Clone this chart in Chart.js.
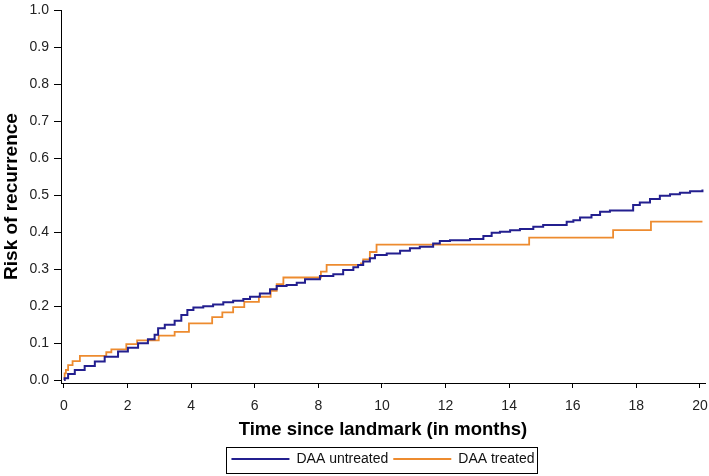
<!DOCTYPE html>
<html>
<head>
<meta charset="utf-8">
<title>Risk of recurrence</title>
<script src="https://cdn.jsdelivr.net/npm/chart.js@4/dist/chart.umd.min.js"></script>
<style>
  body { margin: 0; background: #fff; }
  #wrap { width: 709px; height: 476px; }
</style>
</head>
<body>
<div id="wrap"><canvas id="km" width="709" height="476"></canvas></div>
<script>
// months since landmark / cumulative risk
const untreatedT = [0, 0.02, 0.13, 0.34, 0.65, 0.97, 1.28, 1.7, 2.01, 2.33, 2.64, 2.85, 2.96, 3.17, 3.48, 3.69, 3.88,
  4.07, 4.38, 4.69, 5.01, 5.32, 5.64, 5.85, 6.16, 6.48, 6.69, 7.0, 7.32, 7.58, 8.05, 8.47, 8.78, 9.1, 9.25,
  9.41, 9.62, 9.78, 10.15, 10.57, 10.88, 11.19, 11.61, 11.82, 12.14, 12.77, 13.19, 13.45, 13.71, 14.03,
  14.34, 14.76, 15.07, 15.81, 16.02, 16.23, 16.59, 16.86, 17.17, 17.9, 18.11, 18.43, 18.74, 19.06, 19.37,
  19.69, 20.08];
const untreatedRisk = [0, 0.005, 0.016, 0.027, 0.038, 0.05, 0.063, 0.077, 0.087, 0.099, 0.11, 0.122, 0.14, 0.149,
  0.16, 0.176, 0.189, 0.196, 0.199, 0.204, 0.21, 0.214, 0.219, 0.225, 0.234, 0.245, 0.254, 0.257, 0.263,
  0.272, 0.281, 0.286, 0.297, 0.305, 0.311, 0.32, 0.329, 0.338, 0.342, 0.349, 0.356, 0.36, 0.369, 0.376,
  0.378, 0.381, 0.389, 0.398, 0.401, 0.405, 0.408, 0.414, 0.419, 0.428, 0.432, 0.439, 0.446, 0.455, 0.458,
  0.473, 0.48, 0.489, 0.498, 0.502, 0.506, 0.51, 0.515];

const treatedT = [0, 0.02, 0.06, 0.13, 0.27, 0.5, 1.33, 1.49, 1.96, 2.3, 2.98, 3.48, 3.93, 4.66, 4.98, 5.32, 5.67,
  6.13, 6.5, 6.69, 6.9, 8.08, 8.26, 9.34, 9.41, 9.62, 9.83, 14.63, 17.27, 18.46, 20.08];
const treatedRisk = [0, 0.018, 0.027, 0.04, 0.051, 0.065, 0.075, 0.083, 0.097, 0.107, 0.12, 0.13, 0.153, 0.17,
  0.183, 0.197, 0.211, 0.225, 0.241, 0.259, 0.277, 0.293, 0.311, 0.315, 0.326, 0.346, 0.366, 0.385, 0.405,
  0.428, 0.428];

const seriesNames = ["DAA untreated", "DAA treated"];
const xTicks = [0, 2, 4, 6, 8, 10, 12, 14, 16, 18, 20];
const yTicks = [0, 0.1, 0.2, 0.3, 0.4, 0.5, 0.6, 0.7, 0.8, 0.9, 1.0];

const toPoints = (xs, ys) => xs.map((x, i) => ({ x: x, y: ys[i] }));

const fam = "'Liberation Sans', Arial, sans-serif";
const tickFont = { family: fam, size: 14 };

// box around the legend, like the original figure
const legendFrame = {
  id: "legendFrame",
  afterDraw(chart) {
    const boxes = chart.legend && chart.legend.legendHitBoxes;
    if (!boxes || !boxes.length) return;
    let l = Infinity, r = -Infinity, t = Infinity, b = -Infinity;
    boxes.forEach((h) => {
      l = Math.min(l, h.left);
      r = Math.max(r, h.left + h.width);
      t = Math.min(t, h.top);
      b = Math.max(b, h.top + h.height);
    });
    const ctx = chart.ctx;
    ctx.save();
    ctx.strokeStyle = "#000";
    ctx.lineWidth = 1;
    ctx.strokeRect(Math.round(l - 5) + 0.5, Math.round(t - 5) + 0.5, Math.round(r - l + 8), Math.round(b - t + 12));
    ctx.restore();
  },
};

const ctx = document.getElementById("km").getContext("2d");
new Chart(ctx, {
  type: "line",
  data: {
    datasets: [
      {
        label: seriesNames[0],
        data: toPoints(untreatedT, untreatedRisk),
        borderColor: "#231f8f",
        borderWidth: 2,
        stepped: "before", // KM style: hold level, then jump at the event time
        pointRadius: 0,
        fill: false,
      },
      {
        label: seriesNames[1],
        data: toPoints(treatedT, treatedRisk),
        borderColor: "#ed8b2f",
        borderWidth: 1.8,
        stepped: "before",
        pointRadius: 0,
        fill: false,
      },
    ],
  },
  options: {
    responsive: false,
    animation: false,
    layout: { padding: { top: 10, right: 4, left: 0, bottom: 0 } },
    plugins: {
      tooltip: { enabled: false },
      legend: {
        position: "bottom",
        fullSize: false,
        labels: {
          usePointStyle: true,
          pointStyle: "line",
          pointStyleWidth: 58,
          padding: 5,
          color: "#111",
          font: { family: fam, size: 14 },
        },
      },
    },
    scales: {
      x: {
        type: "linear",
        min: -0.094,
        max: 20.16,
        afterBuildTicks: (scale) => { scale.ticks = xTicks.map((v) => ({ value: v })); },
        afterFit: (scale) => {
          scale.height = 64;
          scale.paddingLeft = 0;
          scale.paddingRight = 0;
        },
        grid: { display: true, drawOnChartArea: false, tickLength: 5, color: "#000" },
        border: { display: true, color: "#000", width: 1 },
        ticks: { color: "#222", font: tickFont, padding: 10, maxRotation: 0, autoSkip: false },
        title: {
          display: true,
          text: "Time since landmark (in months)",
          color: "#000",
          font: { family: fam, size: 18.5, weight: "bold" },
          padding: { top: 2, bottom: 6 },
        },
      },
      y: {
        type: "linear",
        min: -0.0081,
        max: 1.0,
        afterBuildTicks: (scale) => { scale.ticks = yTicks.map((v) => ({ value: v })); },
        afterFit: (scale) => {
          scale.width = 61;
          scale.paddingTop = 0;
          scale.paddingBottom = 0;
        },
        grid: { display: true, drawOnChartArea: false, tickLength: 7, color: "#000" },
        border: { display: true, color: "#000", width: 1 },
        ticks: {
          color: "#222",
          font: tickFont,
          padding: 5,
          autoSkip: false,
          callback: (v) => Number(v).toFixed(1),
        },
        title: {
          display: true,
          text: "Risk of recurrence",
          color: "#000",
          font: { family: fam, size: 19, weight: "bold" },
          padding: { top: 0, bottom: 0 },
        },
      },
    },
  },
  plugins: [legendFrame],
});
</script>
</body>
</html>
